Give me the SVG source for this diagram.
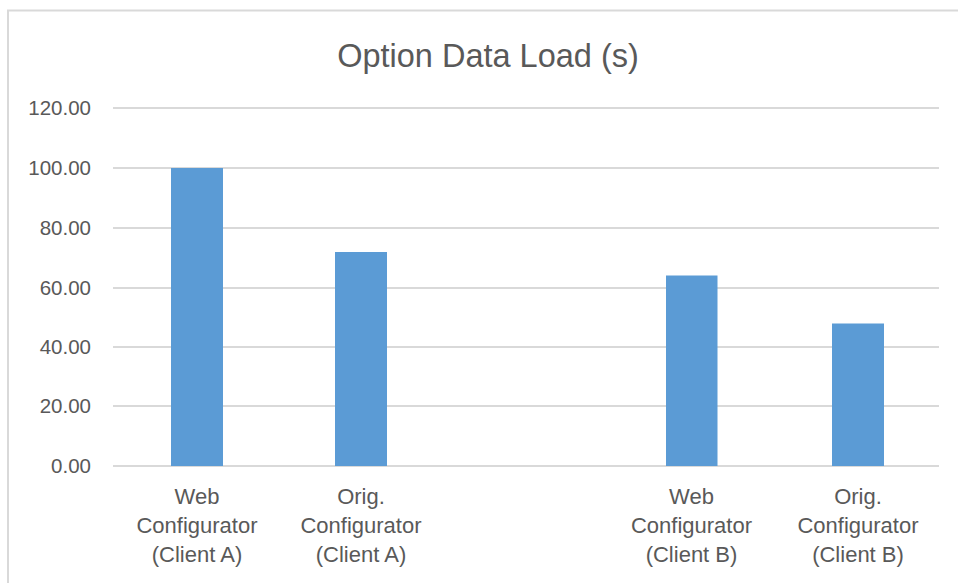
<svg xmlns="http://www.w3.org/2000/svg" width="958" height="583" viewBox="0 0 958 583">
<style>
.grid{stroke:#d9d9d9;stroke-width:2}
.bar{fill:#5b9bd5}
.ytick{font-family:"Liberation Sans",Arial,sans-serif;font-size:20.5px;fill:#595959;text-anchor:end}
.xl{font-family:"Liberation Sans",Arial,sans-serif;font-size:22px;fill:#595959;text-anchor:middle}
.title{font-family:"Liberation Sans",Arial,sans-serif;font-size:32.5px;fill:#595959;text-anchor:middle}
</style>
<rect x="0" y="0" width="958" height="583" fill="#ffffff"/>
<path d="M8 583 V10.5 H958" fill="none" stroke="#d9d9d9" stroke-width="2"/>
<text class="title" x="488" y="67">Option Data Load (s)</text>
<g id="gridlines">
<line class="grid" x1="113" y1="108" x2="939" y2="108"/>
<line class="grid" x1="113" y1="168" x2="939" y2="168"/>
<line class="grid" x1="113" y1="228" x2="939" y2="228"/>
<line class="grid" x1="113" y1="288" x2="939" y2="288"/>
<line class="grid" x1="113" y1="347" x2="939" y2="347"/>
<line class="grid" x1="113" y1="406" x2="939" y2="406"/>
<line class="grid" x1="113" y1="466" x2="939" y2="466"/>
</g>
<g id="yaxis">
<text class="ytick" x="91" y="115">120.00</text>
<text class="ytick" x="91" y="175">100.00</text>
<text class="ytick" x="91" y="235">80.00</text>
<text class="ytick" x="91" y="295">60.00</text>
<text class="ytick" x="91" y="354">40.00</text>
<text class="ytick" x="91" y="413">20.00</text>
<text class="ytick" x="91" y="473">0.00</text>
</g>
<g id="bar1"><rect class="bar" x="171" y="168" width="52" height="298"/>
<text class="xl" x="197" y="504">Web</text><text class="xl" x="197" y="533">Configurator</text><text class="xl" x="197" y="562">(Client A)</text></g>
<g id="bar2"><rect class="bar" x="335" y="252" width="52" height="214"/>
<text class="xl" x="361" y="504">Orig.</text><text class="xl" x="361" y="533">Configurator</text><text class="xl" x="361" y="562">(Client A)</text></g>
<g id="bar3"><rect class="bar" x="666" y="275.5" width="51.5" height="190.5"/>
<text class="xl" x="691.5" y="504">Web</text><text class="xl" x="691.5" y="533">Configurator</text><text class="xl" x="691.5" y="562">(Client B)</text></g>
<g id="bar4"><rect class="bar" x="832" y="323.5" width="52" height="142.5"/>
<text class="xl" x="858" y="504">Orig.</text><text class="xl" x="858" y="533">Configurator</text><text class="xl" x="858" y="562">(Client B)</text></g>
</svg>
